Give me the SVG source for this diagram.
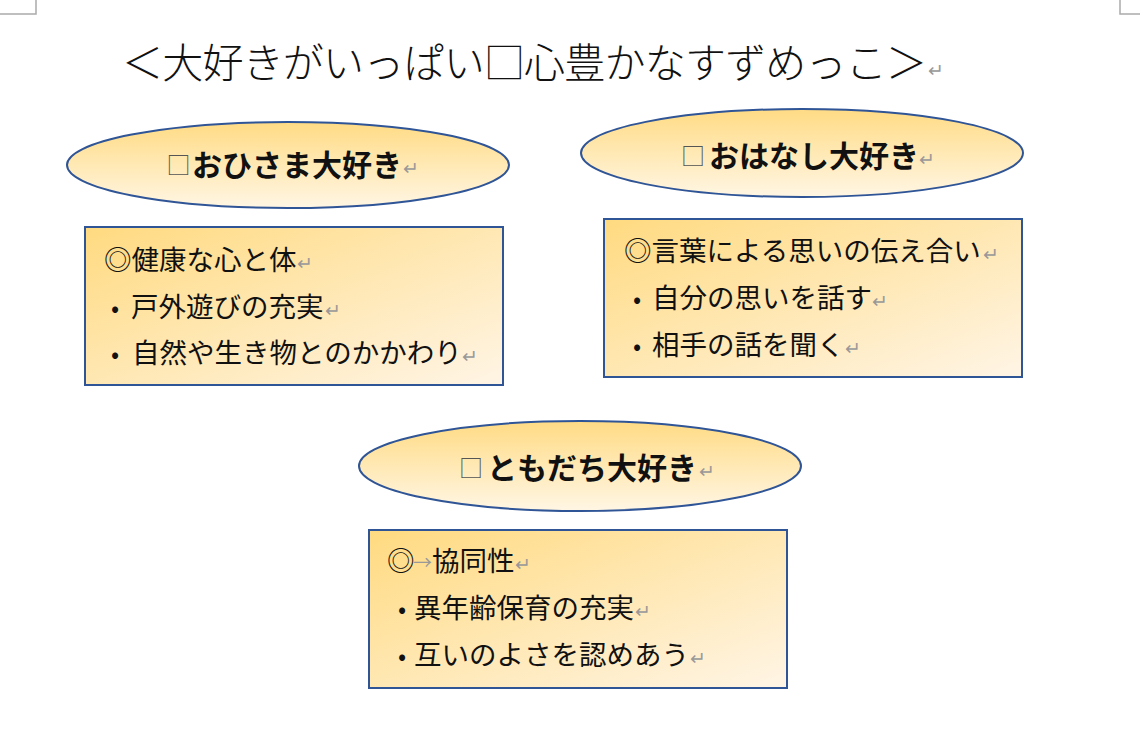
<svg xmlns="http://www.w3.org/2000/svg" width="1140" height="733" viewBox="0 0 1140 733">
<defs>
<linearGradient id="gEll" x1="0" y1="0" x2="0" y2="1">
<stop offset="0" stop-color="#FFDB84"/>
<stop offset="1" stop-color="#FFF6E4"/>
</linearGradient>
<linearGradient id="gBox" x1="0" y1="0" x2="1" y2="1">
<stop offset="0" stop-color="#FFDA80"/>
<stop offset="1" stop-color="#FFF5E6"/>
</linearGradient>
<style>
text{font-family:"Noto Sans CJK JP","Noto Sans CJK SC",sans-serif;fill:#111}
.ell{fill:url(#gEll);stroke:#2F5597;stroke-width:2}
.box{fill:url(#gBox);stroke:#2F5597;stroke-width:2}
.lbl{font-size:30px;font-weight:bold}
.sq{font-size:24px;fill:#555;text-anchor:middle}
.body{font-size:27.5px}
.bul{font-size:24px;text-anchor:middle}
.mark{font-size:19px;fill:#999}
.crop{fill:none;stroke:#AAAAAA;stroke-width:1.5}
</style>
</defs>
<g id="crop-marks">
<path class="crop" d="M0 14H36V0"/>
<path class="crop" d="M1140 14H1120V0"/>
</g>
<g id="title">
<text x="122" y="78" font-size="41" font-weight="300" textLength="805" lengthAdjust="spacing">＜大好きがいっぱい□心豊かなすずめっこ＞</text>
<text class="mark" x="928" y="77">↵</text>
</g>
<g id="connectors"></g>
<g id="node-ohisama">
<ellipse class="ell" cx="288" cy="165" rx="221" ry="43"/>
<text class="sq" x="178.5" y="174">□</text>
<text class="lbl" x="192" y="176">おひさま大好き</text>
<text class="mark" x="403" y="175">↵</text>
</g>
<g id="box-ohisama">
<rect class="box" x="85" y="227" width="418" height="158"/>
<text class="body" x="104" y="270">◎健康な心と体</text>
<text class="mark" x="297" y="270">↵</text>
<text class="bul" x="115" y="317">•</text>
<text class="body" x="131" y="317">戸外遊びの充実</text>
<text class="mark" x="325" y="317">↵</text>
<text class="bul" x="115" y="363">•</text>
<text class="body" x="132" y="363">自然や生き物とのかかわり</text>
<text class="mark" x="462" y="363">↵</text>
</g>
<g id="node-ohanashi">
<ellipse class="ell" cx="802" cy="153" rx="221" ry="44"/>
<text class="sq" x="693" y="165">□</text>
<text class="lbl" x="709" y="167">おはなし大好き</text>
<text class="mark" x="919" y="166">↵</text>
</g>
<g id="box-ohanashi">
<rect class="box" x="604" y="219" width="418" height="158"/>
<text class="body" x="624" y="261">◎言葉による思いの伝え合い</text>
<text class="mark" x="983" y="261">↵</text>
<text class="bul" x="637" y="308">•</text>
<text class="body" x="652" y="308">自分の思いを話す</text>
<text class="mark" x="872" y="308">↵</text>
<text class="bul" x="637" y="355">•</text>
<text class="body" x="652" y="355">相手の話を聞く</text>
<text class="mark" x="845" y="355">↵</text>
</g>
<g id="node-tomodachi">
<ellipse class="ell" cx="580" cy="466" rx="221" ry="45"/>
<text class="sq" x="471" y="477">□</text>
<text class="lbl" x="487" y="479">ともだち大好き</text>
<text class="mark" x="699" y="478">↵</text>
</g>
<g id="box-tomodachi">
<rect class="box" x="369" y="530" width="418" height="158"/>
<text class="body" x="387" y="571">◎</text>
<text class="mark" x="413" y="570">→</text>
<text class="body" x="432" y="571">協同性</text>
<text class="mark" x="515" y="571">↵</text>
<text class="bul" x="402" y="618">•</text>
<text class="body" x="414" y="618">異年齢保育の充実</text>
<text class="mark" x="635" y="618">↵</text>
<text class="bul" x="402" y="665">•</text>
<text class="body" x="414" y="665">互いのよさを認めあう</text>
<text class="mark" x="690" y="665">↵</text>
</g>
</svg>
